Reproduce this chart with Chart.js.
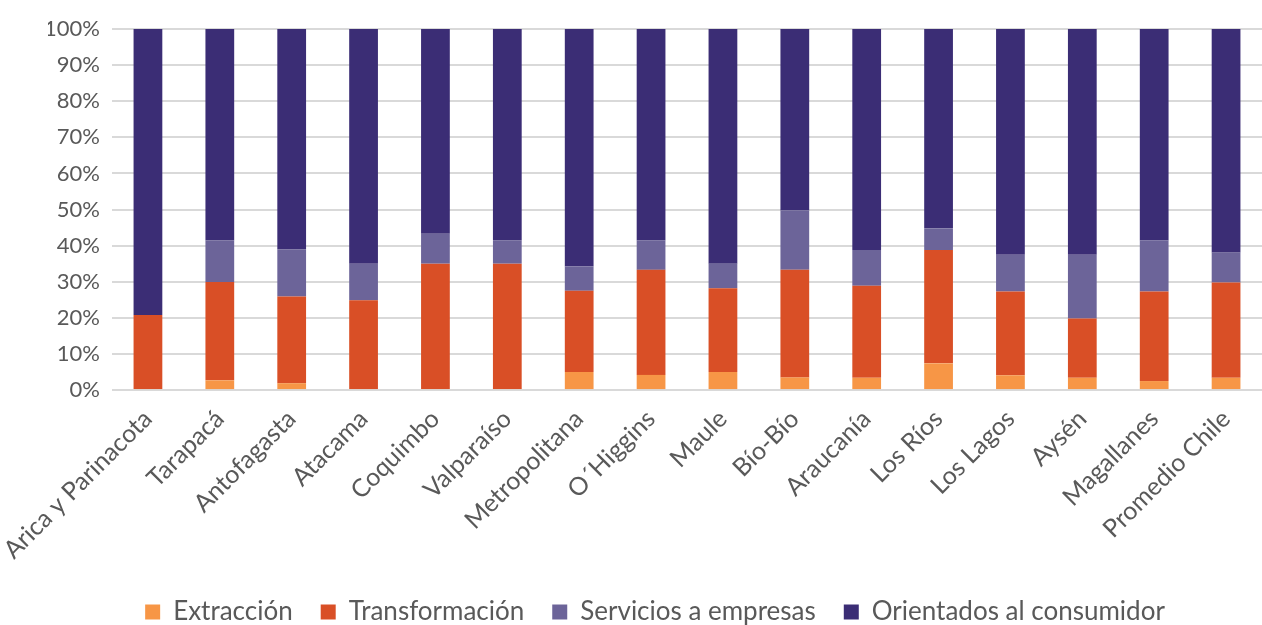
<!DOCTYPE html>
<html>
<head>
<meta charset="utf-8">
<script src="https://cdn.jsdelivr.net/npm/chart.js@4/dist/chart.umd.min.js"></script>
<style>
  html, body { margin: 0; padding: 0; background: #fff; }
  #wrap { width: 1262px; height: 625px; }
</style>
</head>
<body>
<div id="wrap"><canvas id="chart"></canvas></div>
<script>
// Data (shares in %)
const regions = ['Arica y Parinacota', 'Tarapacá', 'Antofagasta', 'Atacama', 'Coquimbo', 'Valparaíso',
    'Metropolitana', 'O´Higgins', 'Maule', 'Bío-Bío', 'Araucanía', 'Los Ríos', 'Los Lagos', 'Aysén',
    'Magallanes', 'Promedio Chile'];
const extraccion     = [0.3, 2.7, 1.9, 0.3, 0.3, 0.3, 5.0, 4.2, 5.0, 3.5, 3.4, 7.4, 4.1, 3.4, 2.5, 3.4];
const transformacion = [20.5, 27.2, 24.0, 24.6, 34.7, 34.7, 22.5, 29.1, 23.2, 29.8, 25.5, 31.4, 23.2, 16.4, 24.8, 26.4];
const servicios      = [0, 11.6, 13.1, 10.1, 8.3, 6.5, 6.7, 8.2, 6.8, 16.5, 9.9, 6.0, 10.2, 17.7, 14.1, 8.4];
const consumidor     = [79.2, 58.5, 61.0, 65.0, 56.7, 58.5, 65.8, 58.5, 65.0, 50.2, 61.2, 55.2, 62.5, 62.5, 58.6, 61.8];
const yTicks = [0, 10, 20, 30, 40, 50, 60, 70, 80, 90, 100];

const COLORS = {
    extraccion: '#F79646',
    transformacion: '#D94F26',
    servicios: '#6C6499',
    consumidor: '#3B2D75'
};

const textColor = '#595959';
Chart.defaults.font.family = 'Lato, "Open Sans", sans-serif';

function makeSet(label, data, color) {
    return {
        label: label,
        data: data,
        backgroundColor: color,
        borderWidth: 0,
        barPercentage: 0.4,
        categoryPercentage: 1.0
    };
}

new Chart(document.getElementById('chart'), {
    type: 'bar',
    data: {
        labels: regions,
        datasets: [
            makeSet('Extracción', extraccion, COLORS.extraccion),
            makeSet('Transformación', transformacion, COLORS.transformacion),
            makeSet('Servicios a empresas', servicios, COLORS.servicios),
            makeSet('Orientados al consumidor', consumidor, COLORS.consumidor)
        ]
    },
    options: {
        responsive: true,
        maintainAspectRatio: false,
        animation: false,
        // left padding only shifts the centred legend; the y axis width keeps the plot at x=112
        layout: { padding: { top: 29, right: 0, left: 48, bottom: -10 } },
        plugins: {
            tooltip: { enabled: false },
            legend: {
                position: 'bottom',
                labels: {
                    color: textColor,
                    font: { size: 26 },
                    boxWidth: 15,
                    boxHeight: 15,
                    padding: 28
                }
            }
        },
        scales: {
            x: {
                stacked: true,
                grid: { display: false },
                border: { display: false },
                afterFit: axis => { axis.paddingLeft = 0; axis.paddingRight = 0; },
                ticks: {
                    color: textColor,
                    font: { size: 25 },
                    minRotation: 45,
                    maxRotation: 45,
                    autoSkip: false,
                    padding: 6
                }
            },
            y: {
                stacked: true,
                min: 0,
                max: 100,
                afterBuildTicks: axis => { axis.ticks = yTicks.map(v => ({ value: v })); },
                afterFit: axis => { axis.width = 64; },
                grid: { color: '#d9d9d9', lineWidth: 2, drawTicks: false },
                border: { display: false },
                ticks: {
                    color: textColor,
                    font: { size: 22 },
                    padding: 12,
                    callback: v => v + '%'
                }
            }
        }
    }
});
</script>
</body>
</html>
